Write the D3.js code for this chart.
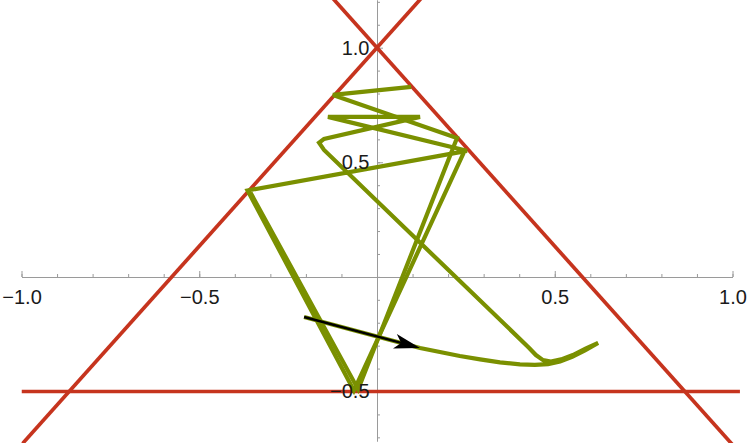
<!DOCTYPE html>
<html><head><meta charset="utf-8">
<script src="https://cdn.jsdelivr.net/npm/d3@7"></script>
<style>html,body{margin:0;padding:0;background:#fff;overflow:hidden}</style>
</head><body>
<svg id="chart" width="747" height="443"></svg>
<script>
// ---- data ----
const triangleVertices = [[0, 1], [-0.866, -0.5], [0.866, -0.5]];
const pathA = [
  [-0.205, -0.175], [0.121, -0.310], [0.177, -0.328], [0.233, -0.345], [0.290, -0.360],
  [0.346, -0.373], [0.402, -0.382], [0.444, -0.384], [0.481, -0.381], [0.515, -0.369],
  [0.549, -0.349], [0.585, -0.321], [0.622, -0.288],
  [0.588, -0.312], [0.551, -0.341], [0.518, -0.360], [0.489, -0.369], [0.467, -0.363],
  [0.447, -0.341], [0.428, -0.310],
  [-0.149, 0.554], [-0.163, 0.585], [-0.149, 0.602], [0.121, 0.698],
  [-0.138, 0.698], [0.253, 0.550], [-0.364, 0.377], [-0.065, -0.496], [0.245, 0.545]
];
const pathB = [
  [0.096, 0.829], [-0.124, 0.794], [0.225, 0.606], [-0.053, -0.491], [-0.356, 0.368]
];
const arrowFrom = [-0.205, -0.175];
const arrowTo = [0.121, -0.310];
const xTicks = [-1.0, -0.5, 0.5, 1.0];
const xTickLabels = ["\u22121.0", "\u22120.5", "0.5", "1.0"];
const yTicks = [-0.5, 0.5, 1.0];
const yTickLabels = ["\u22120.5", "0.5", "1.0"];
const xMinorTicks = d3.range(-10, 11).map(i => i / 10);
const yMinorTicks = d3.range(-7, 13).map(i => i / 10);

// ---- layout ----
const W = 747, H = 443;
const xDomain = [-1, 1], xClipMax = 1.021;
const yDomain = [-0.716, 1.208];
const x = d3.scaleLinear().domain(xDomain).range([21.5, 732.5]);
const y = d3.scaleLinear().domain(yDomain).range([441, 0]);

const RED = "#c6341e", GREEN = "#7a9000", AXIS = "#9a9a9a", FONT = "'Liberation Sans', Arial, sans-serif";

const svg = d3.select("#chart");
svg.append("defs").append("clipPath").attr("id", "plotClip")
  .append("rect").attr("x", x(-1)).attr("y", 0)
  .attr("width", x(xClipMax) - x(-1)).attr("height", H);

const ax0 = Math.round(y(0));
const ay0 = Math.round(x(0));

// axis lines + ticks (behind content)
function styleAxis(g) {
  g.attr("color", AXIS);
  g.selectAll("path.domain").attr("stroke-width", 1);
  g.selectAll(".tick line").attr("stroke-width", 1);
}
svg.append("g").attr("transform", `translate(0,${ax0})`)
  .call(d3.axisTop(x).tickValues(xMinorTicks).tickSize(3).tickSizeOuter(0).tickFormat(""))
  .call(styleAxis);
svg.append("g").attr("transform", `translate(0,${ax0})`)
  .call(d3.axisTop(x).tickValues(xTicks).tickSize(6).tickSizeOuter(0).tickFormat(""))
  .call(styleAxis);
svg.append("g").attr("transform", `translate(${ay0},0)`)
  .call(d3.axisRight(y).tickValues(yMinorTicks).tickSize(3).tickSizeOuter(0).tickFormat(""))
  .call(styleAxis);
svg.append("g").attr("transform", `translate(${ay0},0)`)
  .call(d3.axisRight(y).tickValues(yTicks).tickSize(6).tickSizeOuter(0).tickFormat(""))
  .call(styleAxis);

// plot content
const plot = svg.append("g").attr("clip-path", "url(#plotClip)");

// triangle edges as infinite lines
const edges = [[0, 1], [0, 2], [1, 2]].map(([i, j]) => [triangleVertices[i], triangleVertices[j]]);
edges.forEach(([p, q]) => {
  let a, b;
  if (Math.abs(q[0] - p[0]) < 1e-9) { a = [p[0], yDomain[0]]; b = [p[0], yDomain[1]]; }
  else {
    const m = (q[1] - p[1]) / (q[0] - p[0]);
    const f = t => p[1] + m * (t - p[0]);
    a = [xDomain[0], f(xDomain[0])]; b = [xClipMax, f(xClipMax)];
  }
  plot.append("line")
    .attr("x1", x(a[0])).attr("y1", y(a[1])).attr("x2", x(b[0])).attr("y2", y(b[1]))
    .attr("stroke", RED).attr("stroke-width", 3.7);
});

const line = d3.line().x(d => x(d[0])).y(d => y(d[1]));
[pathA, pathB].forEach(pts => {
  plot.append("path").attr("d", line(pts))
    .attr("fill", "none").attr("stroke", GREEN).attr("stroke-width", 4.2)
    .attr("stroke-linejoin", "miter").attr("stroke-miterlimit", 3).attr("stroke-linecap", "butt");
});

// arrow
(function () {
  const x1 = x(arrowFrom[0]), y1 = y(arrowFrom[1]), x2 = x(arrowTo[0]), y2 = y(arrowTo[1]);
  const dx = x2 - x1, dy = y2 - y1, len = Math.hypot(dx, dy);
  const ux = dx / len, uy = dy / len, nx = -uy, ny = ux;
  const L = 26, w = 7.5, notch = 0.75 * L;
  plot.append("line").attr("x1", x1).attr("y1", y1)
    .attr("x2", x2 - ux * notch).attr("y2", y2 - uy * notch)
    .attr("stroke", "#000").attr("stroke-width", 2.4);
  const pts = [
    [x2, y2],
    [x2 - ux * L + nx * w, y2 - uy * L + ny * w],
    [x2 - ux * notch, y2 - uy * notch],
    [x2 - ux * L - nx * w, y2 - uy * L - ny * w]
  ];
  plot.append("path").attr("d", "M" + pts.map(p => p.join(",")).join("L") + "Z").attr("fill", "#000");
})();

// tick labels
function styleLabels(g) {
  g.select("path.domain").remove();
  g.selectAll(".tick line").remove();
  g.selectAll("text").attr("fill", "#1a1a1a").attr("font-size", 20).attr("font-family", FONT);
}
svg.append("g").attr("transform", `translate(0,${ax0})`)
  .call(d3.axisBottom(x).tickValues(xTicks).tickSize(0).tickPadding(12.5)
    .tickFormat((d, i) => xTickLabels[i]))
  .call(styleLabels);
svg.append("g").attr("transform", `translate(${ay0},0)`)
  .call(d3.axisLeft(y).tickValues(yTicks).tickSize(0).tickPadding(7.5)
    .tickFormat((d, i) => yTickLabels[i]))
  .call(styleLabels);
</script>
</body></html>
